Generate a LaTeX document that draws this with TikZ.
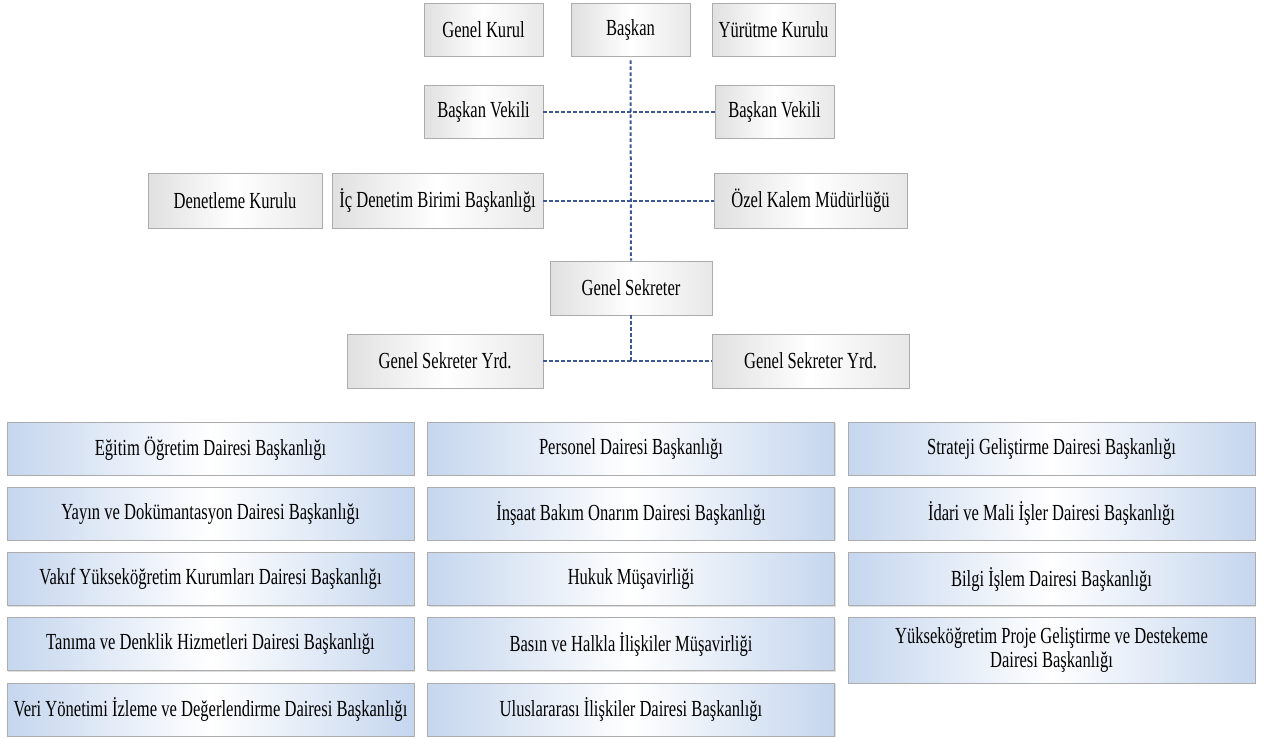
\documentclass[tikz,border=0pt]{standalone}
\usepackage{fontspec}
\setmainfont{Liberation Serif}[FakeStretch=0.72]
\usetikzlibrary{shadows}
\definecolor{hatmavi}{RGB}{60,88,150}
\definecolor{kenar}{RGB}{172,172,172}
\definecolor{acikmavi}{RGB}{197,214,238}
\definecolor{acikgri}{RGB}{224,224,224}

\begin{document}
\begin{tikzpicture}[x=1pt,y=-1pt,
	kutu/.style={draw=kenar,line width=0.8pt,left color=acikgri,right color=acikgri!75,middle color=white,
		drop shadow={shadow xshift=1.2pt,shadow yshift=-1.2pt,opacity=0.25},
		inner sep=0pt,minimum height=53pt,font=\fontsize{23}{24}\selectfont,text=black},
	birim/.style={kutu,left color=acikmavi,right color=acikmavi,middle color=white,
		minimum width=407pt,minimum height=53pt,align=center},
	hat/.style={draw=hatmavi,line width=2pt,dash pattern=on 3.5pt off 2.5pt}]
	\useasboundingbox (0,0) rectangle (1264,737);

	% ust kademe
	\node[kutu,minimum width=119pt] (genelkurul) at (483.5,29.5) {Genel Kurul};
	\node[kutu,minimum width=119pt] (baskan) at (630.5,29.5) {Başkan};
	\node[kutu,minimum width=123pt] (yurutme) at (773.5,29.5) {Yürütme Kurulu};
	\node[kutu,minimum width=119pt] (vekil1) at (483.5,111.5) {Başkan Vekili};
	\node[kutu,minimum width=119pt] (vekil2) at (774.5,111.5) {Başkan Vekili};
	\node[kutu,minimum width=174pt,minimum height=55pt] (denetleme) at (235,200.5) {Denetleme Kurulu};
	\node[kutu,minimum width=211pt,minimum height=55pt] (icdenetim) at (437.5,200.5) {İç Denetim Birimi Başkanlığı};
	\node[kutu,minimum width=193pt,minimum height=55pt] (ozelkalem) at (810.5,200.5) {Özel Kalem Müdürlüğü};
	\node[kutu,minimum width=162pt,minimum height=54pt] (sekreter) at (631,288) {Genel Sekreter};
	\node[kutu,minimum width=196pt,minimum height=54pt] (yrd1) at (445,361) {Genel Sekreter Yrd.};
	\node[kutu,minimum width=197pt,minimum height=54pt] (yrd2) at (810.5,361) {Genel Sekreter Yrd.};

	% baglantilar
	\draw[hat] ([yshift=-4pt]baskan.south) -- (sekreter.north);
	\draw[hat] (vekil1.east) -- (vekil2.west);
	\draw[hat] (icdenetim.east) -- (ozelkalem.west);
	\draw[hat] (yrd1.east) -- (yrd2.west);
	\draw[hat] (sekreter.south) -- (sekreter.south |- yrd1.east);

	% daire baskanliklari
	\node[birim] (egitim) at (210.5,448.5) {Eğitim Öğretim Dairesi Başkanlığı};
	\node[birim] (yayin) at (210.5,513.5) {Yayın ve Dokümantasyon Dairesi Başkanlığı};
	\node[birim] (vakif) at (210.5,579) {Vakıf Yükseköğretim Kurumları Dairesi Başkanlığı};
	\node[birim] (tanima) at (210.5,644) {Tanıma ve Denklik Hizmetleri Dairesi Başkanlığı};
	\node[birim] (veri) at (210.5,709.5) {Veri Yönetimi İzleme ve Değerlendirme Dairesi Başkanlığı};

	\node[birim] (personel) at (631,448.5) {Personel Dairesi Başkanlığı};
	\node[birim] (insaat) at (631,513.5) {İnşaat Bakım Onarım Dairesi Başkanlığı};
	\node[birim] (hukuk) at (631,579) {Hukuk Müşavirliği};
	\node[birim] (basin) at (631,644) {Basın ve Halkla İlişkiler Müşavirliği};
	\node[birim] (uluslar) at (631,709.5) {Uluslararası İlişkiler Dairesi Başkanlığı};

	\node[birim] (strateji) at (1051.5,448.5) {Strateji Geliştirme Dairesi Başkanlığı};
	\node[birim] (idari) at (1051.5,513.5) {İdari ve Mali İşler Dairesi Başkanlığı};
	\node[birim] (bilgi) at (1051.5,579) {Bilgi İşlem Dairesi Başkanlığı};
	\node[birim,minimum height=66pt] (proje) at (1051.5,650) {Yükseköğretim Proje Geliştirme ve Destekeme\\Dairesi Başkanlığı};
\end{tikzpicture}
\end{document}
